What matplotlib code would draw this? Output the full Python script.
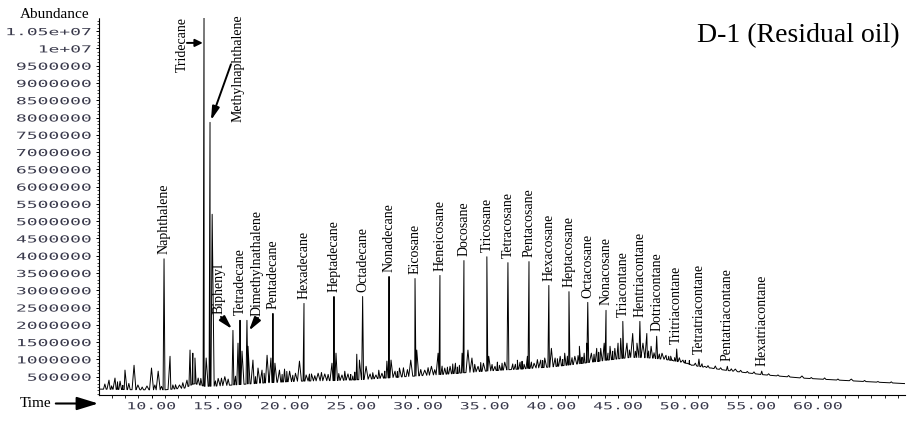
import numpy as np
import matplotlib.pyplot as plt
from matplotlib.ticker import MultipleLocator
from matplotlib.patheffects import AbstractPathEffect
from matplotlib.transforms import Affine2D


# identified compounds: retention time (min) and apex abundance
compounds = ['Naphthalene', 'Tridecane', 'Methylnaphthalene', 'Biphenyl',
             'Tetradecane', 'Dimethylnathalene', 'Pentadecane', 'Hexadecane',
             'Heptadecane', 'Octadecane', 'Nonadecane', 'Eicosane',
             'Heneicosane', 'Docosane', 'Tricosane', 'Tetracosane',
             'Pentacosane', 'Hexacosane', 'Heptacosane', 'Octacosane',
             'Nonacosane', 'Triacontane', 'Hentriacontane', 'Dotriacontane',
             'Tritriacontane', 'Tetratriacontane', 'Pentatriacontane',
             'Hexatriacontane']
comp_time = [10.94, 13.94, 14.39, 16.11, 16.64, 17.16, 19.11, 21.44, 23.69,
             25.84, 27.82, 29.77, 31.64, 33.44, 35.16, 36.74, 38.32, 39.81,
             41.32, 42.73, 44.10, 45.36, 46.64, 47.90, 49.40, 51.07, 53.20,
             55.78]
comp_height = [3.91e6, 1.10e7, 7.86e6, 1.84e6, 2.13e6, 2.13e6, 2.33e6,
               2.62e6, 2.82e6, 2.82e6, 3.40e6, 3.34e6, 3.43e6, 3.86e6,
               3.97e6, 3.80e6, 3.83e6, 3.14e6, 2.96e6, 2.65e6, 2.42e6,
               2.10e6, 2.10e6, 1.67e6, 1.30e6, 1.01e6, 0.80e6, 0.66e6]

# unlabelled peaks
minor_time = [6.81, 7.26, 7.64, 8.01, 8.69, 8.98, 9.66, 10.0, 10.5, 11.39,
              11.6, 12.1, 12.66, 12.89, 13.1, 13.26, 13.5, 14.1, 14.55,
              15.0, 15.5, 16.49, 16.79, 17.24, 17.61, 17.99, 18.29, 18.67,
              18.96, 19.26, 19.6, 19.98, 20.36, 20.8, 21.1, 21.6, 22.0,
              22.5, 23.0, 23.54, 23.84, 24.29, 24.74, 25.1, 25.4, 25.6,
              26.1, 26.4, 26.84, 27.29, 27.66, 27.97, 28.27, 28.6, 29.45,
              29.9, 30.5, 31.0, 31.5, 32.0, 32.4, 32.8, 33.1, 33.3, 33.74,
              34.04, 34.5, 34.9, 35.3, 35.77, 36.1, 36.5, 36.8, 37.3, 37.65,
              37.95, 38.2, 38.7, 39.2, 39.5, 40.0, 40.28, 40.66, 41.0, 41.76,
              42.1, 42.46, 42.66, 43.0, 43.4, 43.7, 43.96, 44.4, 44.76, 45.0,
              45.2, 45.67, 46.1, 46.42, 46.87, 47.16, 47.48, 48.3, 48.6,
              48.8, 49.07, 49.87, 50.2, 50.5, 51.5, 52.0, 53.8, 58.8, 62.5]
minor_height = [0.40e6, 0.46e6, 0.37e6, 0.69e6, 0.83e6, 0.26e6, 0.23e6,
                0.75e6, 0.66e6, 1.09e6, 0.26e6, 0.26e6, 0.40e6, 1.27e6,
                1.18e6, 1.04e6, 0.46e6, 1.04e6, 5.20e6, 0.45e6, 0.50e6,
                1.47e6, 1.24e6, 1.38e6, 0.98e6, 0.75e6, 0.69e6, 1.12e6,
                1.04e6, 0.89e6, 0.69e6, 0.72e6, 0.66e6, 0.60e6, 0.95e6,
                0.55e6, 0.58e6, 0.60e6, 0.58e6, 0.89e6, 1.18e6, 0.55e6,
                0.58e6, 0.52e6, 1.15e6, 0.98e6, 0.80e6, 0.58e6, 0.55e6,
                0.60e6, 0.95e6, 0.98e6, 0.66e6, 0.75e6, 0.98e6, 1.27e6,
                0.69e6, 0.80e6, 1.18e6, 0.75e6, 0.80e6, 0.89e6, 0.83e6,
                1.18e6, 1.27e6, 1.04e6, 0.80e6, 0.89e6, 1.09e6, 0.80e6,
                0.83e6, 0.92e6, 1.27e6, 0.86e6, 0.92e6, 0.86e6, 1.09e6,
                0.89e6, 0.98e6, 1.04e6, 1.32e6, 1.04e6, 1.09e6, 1.18e6,
                1.09e6, 1.38e6, 1.18e6, 1.47e6, 1.18e6, 1.32e6, 1.32e6,
                1.47e6, 1.38e6, 1.32e6, 1.47e6, 1.61e6, 1.47e6, 1.75e6,
                1.47e6, 1.47e6, 1.75e6, 1.38e6, 1.18e6, 1.12e6, 1.09e6,
                0.98e6, 0.98e6, 0.89e6, 0.83e6, 0.80e6, 0.75e6, 0.72e6,
                0.52e6, 0.43e6]

# small baseline ripples: time and rise above the baseline
ripple_time = [6.5, 7.0, 7.45, 7.85, 8.3, 9.3, 10.25, 10.75, 11.8, 12.35,
               13.7, 14.8, 15.25, 15.75, 16.3, 17.8, 18.45, 19.8, 20.15, 20.6,
               21.85, 22.25, 22.75, 23.25, 24.05, 24.5, 24.95, 25.25, 26.6,
               27.05, 27.5, 28.45, 28.9, 29.2, 30.2, 30.75, 31.25, 31.8, 32.2,
               32.6, 32.95, 34.25, 34.7, 35.55, 35.95, 36.3, 37.1, 37.45,
               37.8, 38.5, 38.95, 39.35, 40.45, 40.85, 41.2, 41.55, 42.0,
               42.3, 43.2, 43.55, 44.25, 44.6, 45.85, 46.3, 47.3, 47.7, 48.1,
               48.95, 49.25, 49.6, 50.05, 50.35, 50.8, 51.3, 51.75, 52.3,
               52.7, 53.5, 54.2, 54.7, 55.2, 56.3, 57.0, 57.8, 59.5, 60.5,
               61.5, 63.5, 64.5, 65.5]
ripple_rise = [0.15e6, 0.10e6, 0.22e6, 0.12e6, 0.18e6, 0.08e6, 0.14e6,
               0.10e6, 0.12e6, 0.16e6, 0.20e6, 0.15e6, 0.22e6, 0.18e6,
               0.25e6, 0.20e6, 0.28e6, 0.22e6, 0.30e6, 0.18e6, 0.20e6,
               0.15e6, 0.24e6, 0.18e6, 0.20e6, 0.26e6, 0.16e6, 0.22e6,
               0.18e6, 0.24e6, 0.20e6, 0.16e6, 0.26e6, 0.20e6, 0.18e6,
               0.22e6, 0.15e6, 0.24e6, 0.20e6, 0.28e6, 0.18e6, 0.22e6,
               0.26e6, 0.18e6, 0.24e6, 0.20e6, 0.16e6, 0.26e6, 0.22e6,
               0.18e6, 0.24e6, 0.20e6, 0.22e6, 0.18e6, 0.26e6, 0.20e6,
               0.24e6, 0.18e6, 0.22e6, 0.26e6, 0.20e6, 0.24e6, 0.22e6,
               0.18e6, 0.20e6, 0.16e6, 0.14e6, 0.12e6, 0.10e6, 0.12e6,
               0.08e6, 0.10e6, 0.07e6, 0.09e6, 0.06e6, 0.08e6, 0.05e6,
               0.06e6, 0.05e6, 0.04e6, 0.05e6, 0.04e6, 0.03e6, 0.04e6,
               0.03e6, 0.04e6, 0.03e6, 0.03e6, 0.02e6, 0.03e6]

# baseline drift with the unresolved hump
base_time = [6.1, 9.0, 11.0, 12.5, 13.2, 14.0, 15.0, 16.5, 18.5, 21.0,
             24.0, 26.0, 29.0, 32.0, 35.0, 38.0, 40.0, 42.0, 44.0, 46.0,
             47.5, 48.5, 49.0, 50.0, 51.0, 53.2, 55.8, 58.8, 62.5, 66.5]
base_level = [0.14e6, 0.12e6, 0.12e6, 0.17e6, 0.30e6, 0.22e6, 0.23e6,
              0.27e6, 0.32e6, 0.37e6, 0.39e6, 0.42e6, 0.50e6, 0.57e6,
              0.66e6, 0.73e6, 0.78e6, 0.87e6, 0.97e6, 1.06e6, 1.04e6,
              1.00e6, 0.97e6, 0.90e6, 0.80e6, 0.68e6, 0.56e6, 0.46e6,
              0.38e6, 0.30e6]

ytick_vals = [i * 500000 for i in range(1, 22)]
ytick_labels = [str(v) for v in ytick_vals[:19]] + ['1e+07', '1.05e+07']
xtick_vals = [10, 15, 20, 25, 30, 35, 40, 45, 50, 55, 60]


class Widen(AbstractPathEffect):
    """Stretch glyphs sideways, like the instrument's wide bitmap font."""

    def __init__(self, sx=1.8, anchor='right'):
        super().__init__()
        self.sx = sx
        self.anchor = anchor

    def draw_path(self, renderer, gc, tpath, affine, rgbFace=None):
        ext = tpath.get_extents()
        x0 = ext.x1 if self.anchor == 'right' else 0.5 * (ext.x0 + ext.x1)
        stretch = Affine2D().translate(-x0, 0).scale(self.sx, 1).translate(x0, 0)
        renderer.draw_path(gc, tpath, stretch + affine, rgbFace)


def baseline(t):
    return np.interp(t, base_time, base_level)


# build the trace: each peak is a narrow spike standing on the baseline;
# the small unresolved peaks get broader feet so the noise runs together
ripple_h = baseline(np.array(ripple_time)) + np.array(ripple_rise)
peak_t = np.concatenate([comp_time, minor_time, ripple_time])
peak_h = np.concatenate([comp_height, minor_height, ripple_h])
peak_w = np.concatenate([np.full(len(comp_time), 0.07),
                         np.full(len(minor_time), 0.15),
                         np.full(len(ripple_time), 0.1)])
order = np.argsort(peak_t)
peak_t, peak_h, peak_w = peak_t[order], peak_h[order], peak_w[order]

pts = [(t, y) for t, y in zip(base_time, base_level)
       if np.all(np.abs(peak_t - t) > peak_w)]
for t, h, w in zip(peak_t, peak_h, peak_w):
    pts.append((t - w, baseline(t - w)))
    pts.append((t, h))
    pts.append((t + w, baseline(t + w)))
pts.sort(key=lambda p: p[0])
trace_t = [p[0] for p in pts]
trace_y = [p[1] for p in pts]

serif = 'Liberation Serif'
mono = 'DejaVu Sans Mono'
tick_color = '#3a3a4c'

fig = plt.figure(figsize=(9.09, 4.21), dpi=100)
ax = fig.add_axes([0.1089, 0.0618, 0.8867, 0.8954])

ax.plot(trace_t, trace_y, color='black', lw=0.7)
ax.set_xlim(6.06, 66.53)
ax.set_ylim(-30000, 1.088e7)

for sp in ('top', 'right'):
    ax.spines[sp].set_visible(False)
ax.spines['left'].set_linestyle((0, (1, 1)))
ax.spines['left'].set_linewidth(0.8)
ax.spines['bottom'].set_linewidth(0.8)

ax.set_yticks(ytick_vals)
ax.set_yticklabels(ytick_labels)
ax.yaxis.set_minor_locator(MultipleLocator(100000))
ax.set_xticks(xtick_vals)
ax.set_xticklabels([f'{t:.2f}' for t in xtick_vals])
ax.xaxis.set_minor_locator(MultipleLocator(1))
ax.tick_params(axis='y', which='major', length=2.5, width=0.7, pad=3,
               labelsize=7, labelcolor=tick_color)
ax.tick_params(axis='y', which='minor', length=1.2, width=0.5)
ax.tick_params(axis='x', which='major', length=2.5, width=0.7, pad=2,
               labelsize=7, labelcolor=tick_color)
ax.tick_params(axis='x', which='minor', length=2.0, width=0.6)
for lab in ax.get_yticklabels():
    lab.set_fontfamily(mono)
    lab.set_path_effects([Widen(1.85, 'right')])
for lab in ax.get_xticklabels():
    lab.set_fontfamily(mono)
    lab.set_path_effects([Widen(1.7, 'center')])

# labels set off to the side with arrows pointing at their peak
offset_labels = {
    'Tridecane': ((12.29, 9.33e6), (12.66, 1.016e7), (13.85, 1.016e7), 0.45),
    'Methylnaphthalene': ((16.49, 7.86e6), (15.96, 9.54e6), (14.46, 7.92e6), 0.8),
    'Biphenyl': ((15.06, 2.32e6), (15.21, 2.23e6), (16.04, 1.88e6), 0.8),
    'Dimethylnathalene': ((17.91, 2.26e6), (17.99, 2.20e6), (17.31, 1.83e6), 0.8),
}

for name, t, h in zip(compounds, comp_time, comp_height):
    if name in offset_labels:
        (tx, ty), tail, head, hl = offset_labels[name]
        ax.text(tx, ty, name, rotation=90, ha='center', va='bottom',
                fontsize=10, family=serif)
        ax.annotate('', xy=head, xytext=tail,
                    arrowprops=dict(arrowstyle=f'-|>,head_length={hl},head_width=0.22',
                                    color='black', lw=1.4, mutation_scale=10,
                                    shrinkA=0, shrinkB=0))
    else:
        ax.annotate(name, xy=(t, h), xytext=(0, 3.5), textcoords='offset points',
                    rotation=90, ha='center', va='bottom', fontsize=10,
                    family=serif)

fig.text(20 / 909, 1 - 18.5 / 421, 'Abundance', family=serif, fontsize=11,
         va='baseline', ha='left')
fig.text(900 / 909, 1 - 42 / 421, 'D-1 (Residual oil)', family=serif,
         fontsize=20, va='baseline', ha='right')
fig.text(20 / 909, 1 - 407 / 421, 'Time', family=serif, fontsize=11,
         va='baseline', ha='left')
fig.add_artist(plt.matplotlib.patches.FancyArrowPatch(
    (53 / 909, 1 - 403.5 / 421), (101 / 909, 1 - 403.5 / 421),
    transform=fig.transFigure, color='black', lw=1.5,
    arrowstyle='-|>,head_length=1.3,head_width=0.4', mutation_scale=10))

fig.savefig('out.png', dpi=100)
